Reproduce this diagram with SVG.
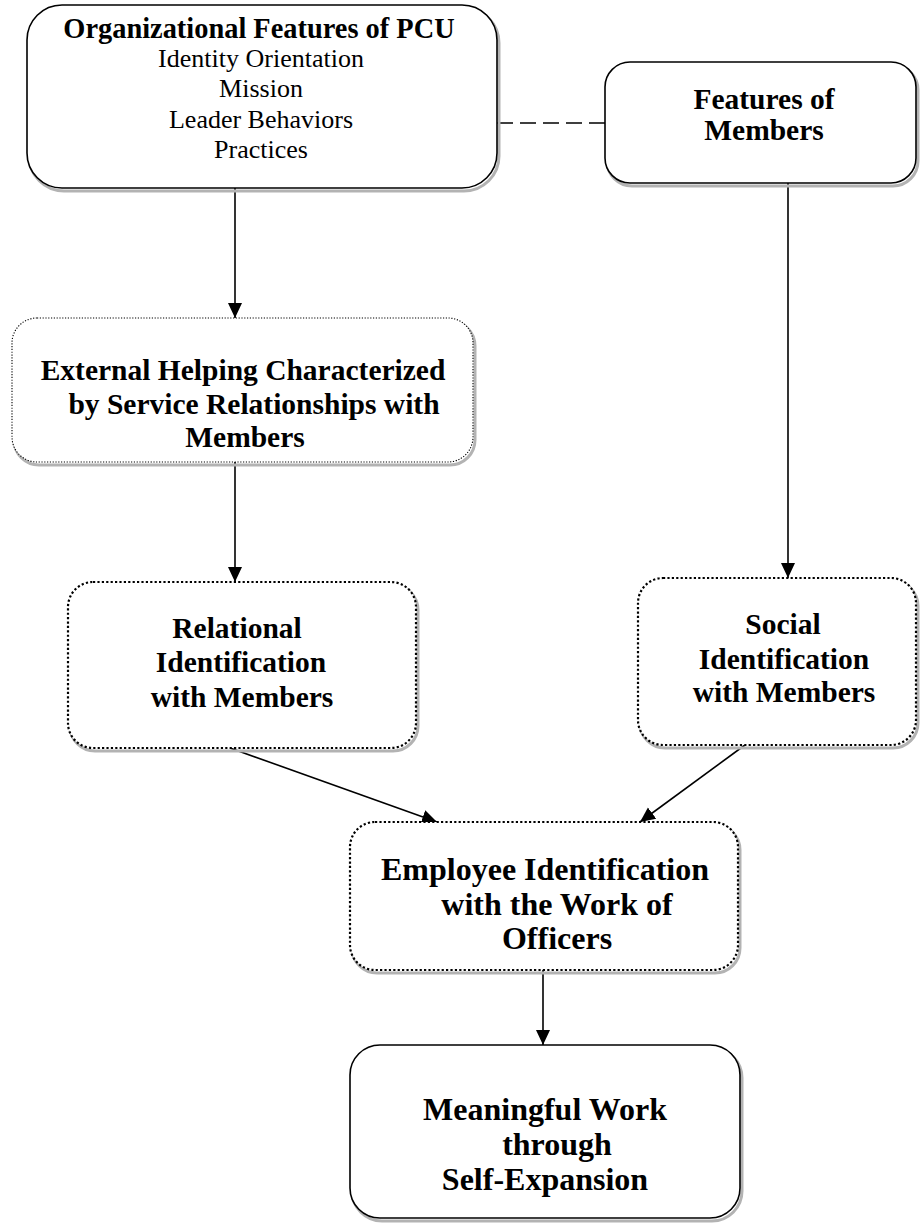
<svg xmlns="http://www.w3.org/2000/svg" width="920" height="1226" viewBox="0 0 920 1226">
<style>
.box{fill:#fff;stroke:#000}
.solid{stroke-width:1.6}
.dotS{stroke-width:1.1;stroke-dasharray:1.2 1.6}
.dotB{stroke-width:2.2;stroke-dasharray:2.2 2.2}
.sh{fill:none;stroke:#b3b3b3;stroke-width:3}
.b{font-family:"Liberation Serif","Times New Roman",serif;font-weight:bold;font-size:29.5px;text-anchor:middle;fill:#000}
.t{font-size:28.4px}
.L{font-size:32px}
.r{font-family:"Liberation Serif","Times New Roman",serif;font-size:26px;text-anchor:middle;fill:#000}
.c{stroke:#000;stroke-width:1.6;fill:none}
</style>
<defs>
<marker id="ah" markerUnits="userSpaceOnUse" markerWidth="16" markerHeight="16" viewBox="0 0 16 16" refX="15" refY="8" orient="auto">
<path d="M0,1 L15,8 L0,15 z" fill="#000"/>
</marker>
</defs>
<g id="connectors">
<line class="c" x1="235" y1="188" x2="235" y2="318" marker-end="url(#ah)"/>
<line class="c" x1="235" y1="462" x2="235" y2="582" marker-end="url(#ah)"/>
<line class="c" x1="788" y1="183" x2="788" y2="578" marker-end="url(#ah)"/>
<line class="c" x1="230" y1="748" x2="437" y2="822" marker-end="url(#ah)"/>
<line class="c" x1="745" y1="745" x2="640" y2="822" marker-end="url(#ah)"/>
<line class="c" x1="543" y1="970" x2="543" y2="1045" marker-end="url(#ah)"/>
<line class="c" x1="497" y1="123" x2="605" y2="123" stroke-dasharray="16 7"/>
</g>
<g id="n1">
<rect class="sh" x="29" y="8" width="470" height="183" rx="35"/>
<rect class="box solid" x="27" y="5" width="470" height="183" rx="35"/>
<text class="b t" x="259" y="38">Organizational Features of PCU</text>
<text class="r" x="261" y="67">Identity Orientation</text>
<text class="r" x="261" y="97">Mission</text>
<text class="r" x="261" y="128">Leader Behaviors</text>
<text class="r" x="261" y="158">Practices</text>
</g>
<g id="n2">
<rect class="sh" x="607" y="65" width="311" height="121" rx="25"/>
<rect class="box solid" x="605" y="62" width="311" height="121" rx="25"/>
<text class="b" x="764" y="109">Features of</text>
<text class="b" x="764" y="140">Members</text>
</g>
<g id="n3">
<rect class="sh" x="14" y="321" width="461" height="144" rx="25"/>
<rect class="box dotS" x="12" y="318" width="461" height="144" rx="25"/>
<text class="b" x="243" y="380">External Helping Characterized</text>
<text class="b" x="254" y="414">by Service Relationships with</text>
<text class="b" x="245" y="447">Members</text>
</g>
<g id="n4">
<rect class="sh" x="70" y="585" width="348" height="166" rx="25"/>
<rect class="box dotB" x="68" y="582" width="348" height="166" rx="25"/>
<text class="b" x="237" y="638">Relational</text>
<text class="b" x="241" y="672">Identification</text>
<text class="b" x="242" y="707">with Members</text>
</g>
<g id="n5">
<rect class="sh" x="640" y="581" width="278" height="167" rx="25"/>
<rect class="box dotB" x="638" y="578" width="278" height="167" rx="25"/>
<text class="b" x="783" y="634">Social</text>
<text class="b" x="784" y="669">Identification</text>
<text class="b" x="784" y="702">with Members</text>
</g>
<g id="n6">
<rect class="sh" x="352" y="825" width="388" height="148" rx="25"/>
<rect class="box dotB" x="350" y="822" width="388" height="148" rx="25"/>
<text class="b L" x="545" y="880">Employee Identification</text>
<text class="b L" x="557" y="915">with the Work of</text>
<text class="b L" x="557" y="949">Officers</text>
</g>
<g id="n7">
<rect class="sh" x="352" y="1048" width="390" height="173" rx="30"/>
<rect class="box solid" x="350" y="1045" width="390" height="173" rx="30"/>
<text class="b L" x="545" y="1120">Meaningful Work</text>
<text class="b L" x="557" y="1155">through</text>
<text class="b L" x="545" y="1190">Self-Expansion</text>
</g>
</svg>
